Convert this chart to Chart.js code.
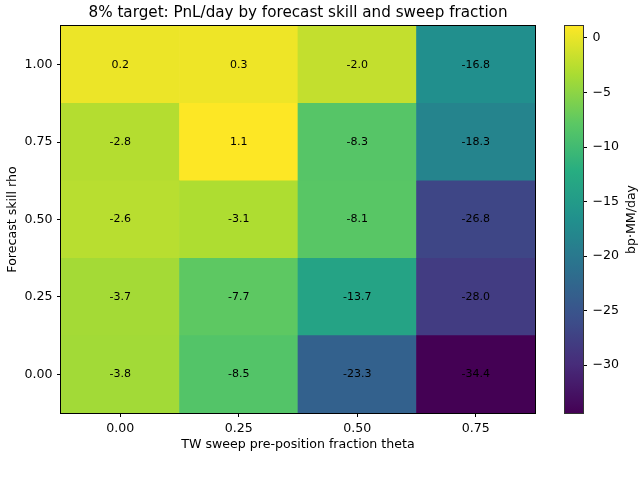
<!DOCTYPE html>
<html><head><meta charset="utf-8">
<script src="https://cdn.jsdelivr.net/npm/chart.js@4/dist/chart.umd.min.js"></script>
<style>
html,body{margin:0;padding:0;background:#fff;}
#wrap{position:relative;width:644px;height:489px;background:#fff;}
canvas{position:absolute;left:0;top:0;}
</style></head><body>
<div id="wrap"><canvas id="main" width="644" height="489"></canvas><canvas id="cbar" width="644" height="489"></canvas></div>
<script>
// ---- data ----
const thetaLabels = ['0.00', '0.25', '0.50', '0.75'];
const rhoValues = [0, 0.25, 0.5, 0.75, 1.0];
const rhoTickLabels = ['0.00', '0.25', '0.50', '0.75', '1.00'];
const pnlRho000 = [-3.8, -8.5, -23.3, -34.4];
const pnlRho025 = [-3.7, -7.7, -13.7, -28.0];
const pnlRho050 = [-2.6, -3.1, -8.1, -26.8];
const pnlRho075 = [-2.8, 1.1, -8.3, -18.3];
const pnlRho100 = [0.2, 0.3, -2.0, -16.8];
const colorbarTicks = [0, -5, -10, -15, -20, -25, -30];
const titleText = '8% target: PnL/day by forecast skill and sweep fraction';
const xTitle = 'TW sweep pre-position fraction theta';
const yTitle = 'Forecast skill rho';
const cbarTitle = 'bp\u00b7MM/day';

const rows = [pnlRho000, pnlRho025, pnlRho050, pnlRho075, pnlRho100];
const allVals = rows.flat();
const vmin = Math.min(...allVals);
const vmax = Math.max(...allVals);

// viridis colormap
const VIR = ['#440154', '#472c7a', '#3b518b', '#2c718e', '#21908d', '#27ad81', '#5cc863', '#aadc32', '#fde725'];
function hex2rgb(h) { return [1, 3, 5].map(i => parseInt(h.substr(i, 2), 16)); }
const VIRrgb = VIR.map(hex2rgb);
function viridis(t) {
  t = Math.max(0, Math.min(1, t));
  const p = t * (VIRrgb.length - 1);
  const i = Math.min(VIRrgb.length - 2, Math.floor(p));
  const f = p - i;
  const a = VIRrgb[i], b = VIRrgb[i + 1];
  const c = a.map((v, k) => Math.round(v + (b[k] - v) * f));
  return `rgb(${c[0]},${c[1]},${c[2]})`;
}
function colorOf(v) { return viridis((v - vmin) / (vmax - vmin)); }

Chart.defaults.font.family = 'DejaVu Sans';
Chart.defaults.color = '#000';

const FONT_TICK = { family: 'DejaVu Sans', size: 12.6 };

const half = 0.125;
const datasets = rows.map((vals, r) => ({
  label: rhoTickLabels[r],
  pnl: vals,
  data: vals.map(() => [rhoValues[r] - half, rhoValues[r] + half]),
  backgroundColor: vals.map(colorOf),
  borderColor: vals.map(colorOf),
  borderWidth: 0,
  borderSkipped: false,
  barPercentage: 1,
  categoryPercentage: 1,
  grouped: false
}));

const annotate = {
  id: 'annotate',
  afterDatasetsDraw(chart) {
    const ctx = chart.ctx;
    ctx.save();
    ctx.font = '11px "DejaVu Sans"';
    ctx.fillStyle = '#000';
    ctx.textAlign = 'center';
    ctx.textBaseline = 'middle';
    chart.data.datasets.forEach((ds, di) => {
      const meta = chart.getDatasetMeta(di);
      meta.data.forEach((el, i) => {
        ctx.fillText(ds.pnl[i].toFixed(1), el.x, (el.y + el.base) / 2);
      });
    });
    ctx.restore();
  },
  afterDraw(chart) {
    const a = chart.chartArea, ctx = chart.ctx;
    ctx.save();
    ctx.strokeStyle = '#000';
    ctx.lineWidth = 1;
    ctx.strokeRect(Math.round(a.left) - 0.5, Math.round(a.top) - 0.5, Math.round(a.right - a.left) + 1, Math.round(a.bottom - a.top) + 1);
    ctx.restore();
  }
};

new Chart(document.getElementById('main'), {
  type: 'bar',
  data: { labels: thetaLabels, datasets },
  options: {
    responsive: false,
    animation: false,
    layout: { padding: { left: 0, right: 109, top: 0, bottom: 0 } },
    plugins: {
      legend: { display: false },
      tooltip: { enabled: false },
      title: {
        display: true, text: titleText, fullSize: false,
        font: { family: 'DejaVu Sans', size: 15.2, weight: 'normal' },
        color: '#000', padding: { top: 3.9, bottom: 3.9 }
      }
    },
    scales: {
      x: {
        type: 'category', offset: true,
        grid: { display: true, offset: false, drawOnChartArea: false, drawTicks: true, tickLength: 4, tickColor: '#000', color: '#000' },
        border: { display: false },
        ticks: { font: FONT_TICK, color: '#000', padding: 4.4, maxRotation: 0 },
        title: { display: true, text: xTitle, font: FONT_TICK, color: '#000', padding: { top: 0, bottom: 36.4 } },
        afterFit(scale) { scale.height = 76; }
      },
      y: {
        type: 'linear', min: -half, max: 1 + half,
        afterBuildTicks(scale) { scale.ticks = rhoValues.map(v => ({ value: v })); },
        grid: { display: true, drawOnChartArea: false, drawTicks: true, tickLength: 4, tickColor: '#000', color: '#000' },
        border: { display: false },
        ticks: { font: FONT_TICK, color: '#000', padding: 4.5, callback: (v, i) => rhoTickLabels[i] },
        title: { display: true, text: yTitle, font: FONT_TICK, color: '#000', padding: { top: 5.4, bottom: 0 } },
        afterFit(scale) { scale.width = 61; }
      }
    }
  },
  plugins: [annotate]
});

// ---- colorbar ----
function gradientFill(context) {
  const chart = context.chart;
  const a = chart.chartArea;
  if (!a) return 'rgba(0,0,0,0)';
  const g = chart.ctx.createLinearGradient(0, a.bottom, 0, a.top);
  const n = 40;
  for (let k = 0; k <= n; k++) g.addColorStop(k / n, viridis(k / n));
  return g;
}
const cbarDeco = {
  id: 'cbarDeco',
  afterDraw(chart) {
    const a = chart.chartArea, ctx = chart.ctx;
    ctx.save();
    ctx.strokeStyle = '#333';
    ctx.lineWidth = 1;
    ctx.strokeRect(Math.round(a.left) - 0.5, Math.round(a.top) - 0.5, Math.round(a.right - a.left) + 1, Math.round(a.bottom - a.top) + 1);
    ctx.translate(632, (a.top + a.bottom) / 2);
    ctx.rotate(-Math.PI / 2);
    ctx.font = '12.6px "DejaVu Sans"';
    ctx.fillStyle = '#000';
    ctx.textAlign = 'center';
    ctx.textBaseline = 'middle';
    ctx.fillText(cbarTitle, 0, 0);
    ctx.restore();
  }
};
new Chart(document.getElementById('cbar'), {
  type: 'bar',
  data: {
    labels: [''],
    datasets: [{ data: [[vmin, vmax]], backgroundColor: gradientFill, borderWidth: 0, borderSkipped: false, barPercentage: 1, categoryPercentage: 1 }]
  },
  options: {
    responsive: false,
    animation: false,
    layout: { padding: { left: 565, right: 0, top: 26, bottom: 76 } },
    plugins: { legend: { display: false }, tooltip: { enabled: false }, title: { display: false } },
    scales: {
      x: { display: false },
      y: {
        type: 'linear', position: 'right', min: vmin, max: vmax,
        afterBuildTicks(scale) { scale.ticks = colorbarTicks.map(v => ({ value: v })); },
        grid: { display: true, drawOnChartArea: false, drawTicks: true, tickLength: 4, tickColor: '#000', color: '#000' },
        border: { display: false },
        ticks: { font: FONT_TICK, color: '#000', padding: 5.5, callback: v => (v < 0 ? '\u2212' + Math.abs(v) : String(v)) },
        afterFit(scale) { scale.width = 61; }
      }
    }
  },
  plugins: [cbarDeco]
});
</script>
</body></html>
